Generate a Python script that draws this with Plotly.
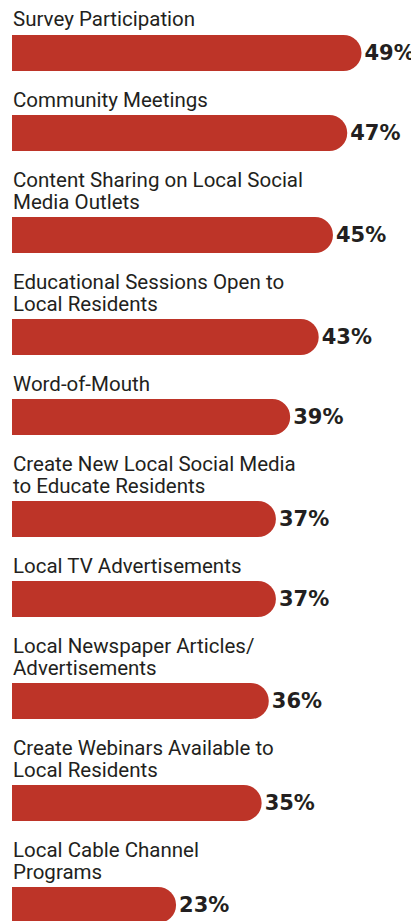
import plotly.graph_objects as go

categories = [
    "Survey Participation",
    "Community Meetings",
    "Content Sharing on Local Social<br>Media Outlets",
    "Educational Sessions Open to<br>Local Residents",
    "Word-of-Mouth",
    "Create New Local Social Media<br>to Educate Residents",
    "Local TV Advertisements",
    "Local Newspaper Articles/<br>Advertisements",
    "Create Webinars Available to<br>Local Residents",
    "Local Cable Channel<br>Programs",
]
values = [49, 47, 45, 43, 39, 37, 37, 36, 35, 23]
value_labels = [f"{v}%" for v in values]

W, H = 419, 921
PAGE_OFF = 8          # default body margin of the html page
BAR_H = 36
LINE_H = 22
GAP = 22
LEFT = 12 - PAGE_OFF
PX_PER_UNIT = (361.5 - 12) / 49
LABEL_SIZE = 20.5

# vertical layout derived from number of label lines (in figure pixels)
tops = []
top = 35 - PAGE_OFF
for i, c in enumerate(categories):
    nlines = c.count("<br>") + 1
    if i > 0:
        top = tops[-1] + BAR_H + GAP + nlines * LINE_H
    tops.append(top)
centers = [t + BAR_H / 2 for t in tops]

fig = go.Figure()
fig.add_trace(go.Bar(
    x=values,
    y=centers,
    orientation="h",
    width=BAR_H,
    marker=dict(color="#BD3428", cornerradius=18, line=dict(width=0)),
    text=value_labels,
    textposition="outside",
    cliponaxis=False,
    textfont=dict(family="DejaVu Sans", size=21, color="#231F20", weight="bold"),
    hoverinfo="skip",
))

for c, t in zip(categories, tops):
    lines = c.split("<br>")
    n = len(lines)
    for k, line in enumerate(lines):
        fig.add_annotation(
            x=0, y=t - 2.5 - (n - 1 - k) * LINE_H,
            xref="x", yref="y",
            text=line, showarrow=False,
            xanchor="left", yanchor="bottom", align="left",
            borderpad=0,
            font=dict(family="Roboto", size=LABEL_SIZE, color="#231F20"),
        )

fig.update_layout(
    width=W, height=H,
    margin=dict(l=0, r=0, t=0, b=0),
    paper_bgcolor="white", plot_bgcolor="white",
    showlegend=False,
    xaxis=dict(range=[-LEFT / PX_PER_UNIT, (W - LEFT) / PX_PER_UNIT], visible=False, fixedrange=True),
    yaxis=dict(range=[H, 0], visible=False, fixedrange=True),
)

fig.write_html("out.html")
